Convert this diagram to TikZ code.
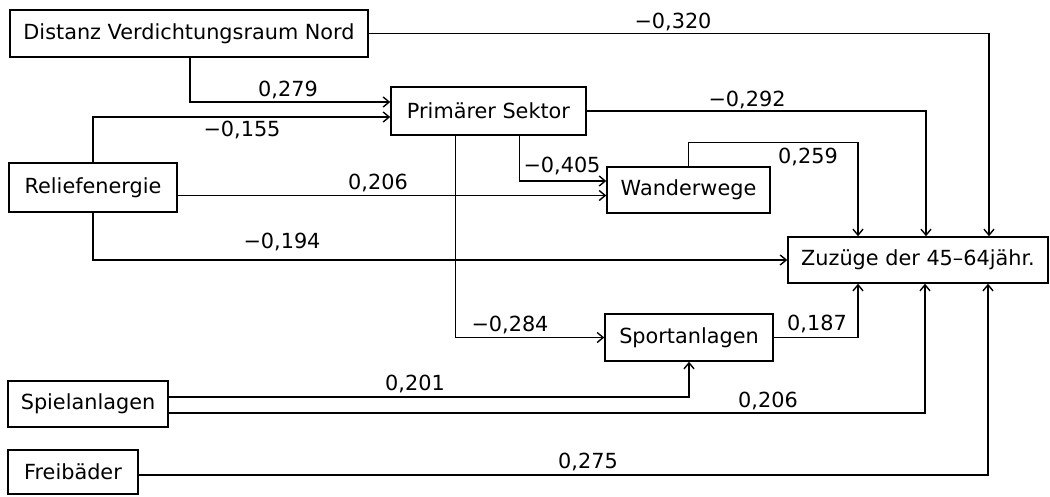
\documentclass[tikz,border=0pt]{standalone}
\usepackage{fontspec}
\setmainfont{DejaVu Sans}
\usetikzlibrary{arrows.meta}

\tikzset{
  var/.style={draw, line width=1.5pt, inner sep=0pt, anchor=center},
  coef/.style={inner sep=0pt, anchor=center},
  path/.style={line width=1.4pt, ->}
}

\begin{document}
\begin{tikzpicture}[x=1pt, y=-1pt, font=\fontsize{20.8}{24}\selectfont,
    >={Straight Barb[length=6pt, width=10pt]}]
  \useasboundingbox (0,0) rectangle (1050,496);

  % Variables
  \node[var, minimum width=358pt, minimum height=47pt] (dist) at (189,33.5) {Distanz Verdichtungsraum Nord};
  \node[var, minimum width=195pt, minimum height=48pt] (prim) at (488.5,111) {Primärer Sektor};
  \node[var, minimum width=168pt, minimum height=49pt] (relief) at (93,187.5) {Reliefenergie};
  \node[var, minimum width=163pt, minimum height=46pt] (wander) at (688.5,190) {Wanderwege};
  \node[var, minimum width=260pt, minimum height=46pt] (zuz) at (918,260) {Zuzüge der 45–64jähr.};
  \node[var, minimum width=168pt, minimum height=47pt] (sport) at (689,337.5) {Sportanlagen};
  \node[var, minimum width=160pt, minimum height=46pt] (spiel) at (88,404) {Spielanlagen};
  \node[var, minimum width=130pt, minimum height=44pt] (frei) at (73,472) {Freibäder};

  % Paths
  \draw[path] (dist.east) -| ([xshift=71pt]zuz.north);
  \draw[path] ([xshift=1pt]dist.south) |- ([yshift=9pt]prim.west);
  \draw[path] (relief.north) |- ([yshift=-6pt]prim.west);
  \draw[path] ([yshift=-8pt]relief.east) -- ([yshift=-8pt]relief.east -| wander.west);
  \draw[path] ([xshift=31pt]prim.south) |- ([yshift=9pt]wander.west);
  \draw[path] (relief.south) |- (zuz.west);
  \draw[path] (prim.east) -| ([xshift=8pt]zuz.north);
  \draw[path] (wander.north) -- ++(0,-24) -| ([xshift=-60pt]zuz.north);
  \draw[path] ([xshift=-33pt]prim.south) |- (sport.west);
  \draw[path] (sport.east) -| ([xshift=-60pt]zuz.south);
  \draw[path] ([yshift=7pt]spiel.east) -| (sport.south);
  \draw[path] ([yshift=-9pt]spiel.east) -| ([xshift=7pt]zuz.south);
  \draw[path] ([yshift=-3pt]frei.east) -| ([xshift=70pt]zuz.south);

  % Coefficients
  \node[coef] (c-dist-zuz) at (673,22) {−0,320};
  \node[coef] (c-dist-prim) at (288,90) {0,279};
  \node[coef] (c-relief-prim) at (242,130) {−0,155};
  \node[coef] (c-relief-wander) at (378,183) {0,206};
  \node[coef] (c-prim-wander) at (562,166) {−0,405};
  \node[coef] (c-relief-zuz) at (282,242) {−0,194};
  \node[coef] (c-prim-zuz) at (747,100) {−0,292};
  \node[coef] (c-wander-zuz) at (808,157) {0,259};
  \node[coef] (c-prim-sport) at (510,325) {−0,284};
  \node[coef] (c-sport-zuz) at (817,324) {0,187};
  \node[coef] (c-spiel-sport) at (415,384) {0,201};
  \node[coef] (c-spiel-zuz) at (768,401) {0,206};
  \node[coef] (c-frei-zuz) at (588,462) {0,275};
\end{tikzpicture}
\end{document}
